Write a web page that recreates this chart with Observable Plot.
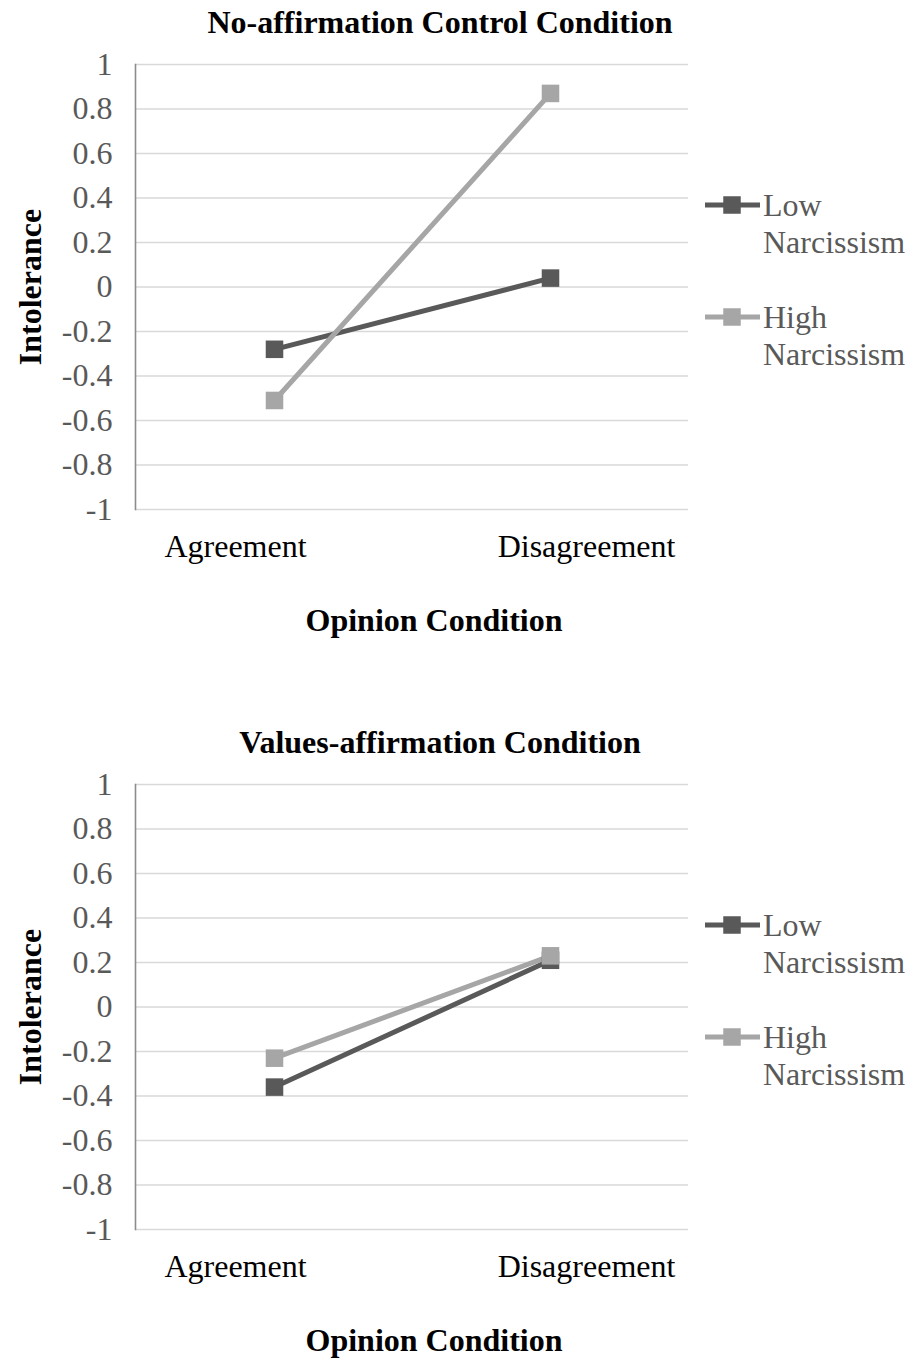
<!DOCTYPE html>
<html>
<head>
<meta charset="utf-8">
<script src="https://cdn.jsdelivr.net/npm/d3@7"></script>
<script src="https://cdn.jsdelivr.net/npm/@observablehq/plot@0.6"></script>
<style>
  html, body { margin: 0; padding: 0; background: #fff; }
  #charts svg { display: block; }
</style>
</head>
<body>
<div id="charts"></div>
<script>
// Opinion conditions on the x axis
const categories = ["Agreement", "Disagreement"];
// Narcissism groups
const seriesNames = ["Low Narcissism", "High Narcissism"];
const seriesColors = ["#595959", "#a6a6a6"];
// Mean intolerance per panel and group
const controlLow = [-0.28, 0.04];
const controlHigh = [-0.51, 0.87];
const affirmLow = [-0.36, 0.21];
const affirmHigh = [-0.23, 0.23];
// Panel titles
const panelTitles = ["No-affirmation Control Condition", "Values-affirmation Condition"];
// Y axis ticks and labels
const yTicks = [-1, -0.8, -0.6, -0.4, -0.2, 0, 0.2, 0.4, 0.6, 0.8, 1];
const yTickLabels = ["-1", "-0.8", "-0.6", "-0.4", "-0.2", "0", "0.2", "0.4", "0.6", "0.8", "1"];
const xTitle = "Opinion Condition";
const yTitle = "Intolerance";

const font = "Liberation Serif, Times New Roman, serif";

function rows(low, high) {
  const out = [];
  [low, high].forEach((vals, s) => {
    vals.forEach((v, i) => out.push({series: seriesNames[s], category: categories[i], value: v}));
  });
  return out;
}

function panel(title, low, high, height) {
  const data = rows(low, high);
  const plotTop = 64, plotBottom = 509, left = 135, right = 688, W = 911;
  const svg = Plot.plot({
    width: W,
    height,
    marginLeft: left,
    marginRight: W - right,
    marginTop: plotTop,
    marginBottom: height - plotBottom,
    style: {fontFamily: font, background: "#fff"},
    x: {type: "point", domain: categories, padding: 0.5, label: null, axis: null},
    y: {domain: [-1, 1], label: null},
    color: {domain: seriesNames, range: seriesColors},
    marks: [
      Plot.gridY(yTicks, {stroke: "#d9d9d9", strokeOpacity: 1, strokeWidth: 1.6}),
      Plot.frame({anchor: "left", stroke: "#8c8c8c", strokeWidth: 1.6}),
      Plot.axisY(yTicks, {
        tickSize: 0, tickPadding: 23, fontSize: 32, fill: "#595959",
        tickFormat: (d) => yTickLabels[yTicks.indexOf(d)], label: null
      }),
      // Category labels sit slightly outward from their points
      Plot.text([categories[0]], {x: (d) => d, frameAnchor: "bottom", lineAnchor: "middle", dy: 37, dx: -39, fontSize: 32, fill: "#000"}),
      Plot.text([categories[1]], {x: (d) => d, frameAnchor: "bottom", lineAnchor: "middle", dy: 37, dx: 36, fontSize: 32, fill: "#000"}),
      Plot.line(data, {x: "category", y: "value", z: "series", stroke: "series", strokeWidth: 5}),
      Plot.dot(data, {x: "category", y: "value", fill: "series", symbol: "square", r: 9.9}),
      Plot.text([title], {frameAnchor: "top", lineAnchor: "middle", dx: 28, dy: -42, fontSize: 32, fontWeight: "bold", fill: "#000"}),
      Plot.text([xTitle], {frameAnchor: "bottom", lineAnchor: "middle", dx: 22, dy: 111, fontSize: 32, fontWeight: "bold", fill: "#000"}),
      Plot.text([yTitle], {frameAnchor: "left", textAnchor: "middle", lineAnchor: "middle", dx: -105, rotate: -90, fontSize: 32, fontWeight: "bold", fill: "#000"})
    ]
  });

  // Legend to the right of the plot
  const g = d3.select(svg).append("g")
    .attr("font-family", font).attr("font-size", 32).attr("text-anchor", "start");
  const entryY = [205, 317];
  seriesNames.forEach((name, i) => {
    const y = entryY[i];
    const [first, second] = name.split(" ");
    g.append("line").attr("x1", 705).attr("x2", 760).attr("y1", y).attr("y2", y)
      .attr("stroke", seriesColors[i]).attr("stroke-width", 5);
    g.append("rect").attr("x", 732 - 8.75).attr("y", y - 8.75).attr("width", 17.5).attr("height", 17.5)
      .attr("fill", seriesColors[i]);
    g.append("text").attr("x", 763).attr("y", y).attr("dy", "0.35em").attr("fill", "#595959").text(first);
    g.append("text").attr("x", 763).attr("y", y + 37).attr("dy", "0.35em").attr("fill", "#595959").text(second);
  });
  return svg;
}

const root = document.getElementById("charts");
root.appendChild(panel(panelTitles[0], controlLow, controlHigh, 720));
root.appendChild(panel(panelTitles[1], affirmLow, affirmHigh, 638));
</script>
</body>
</html>
